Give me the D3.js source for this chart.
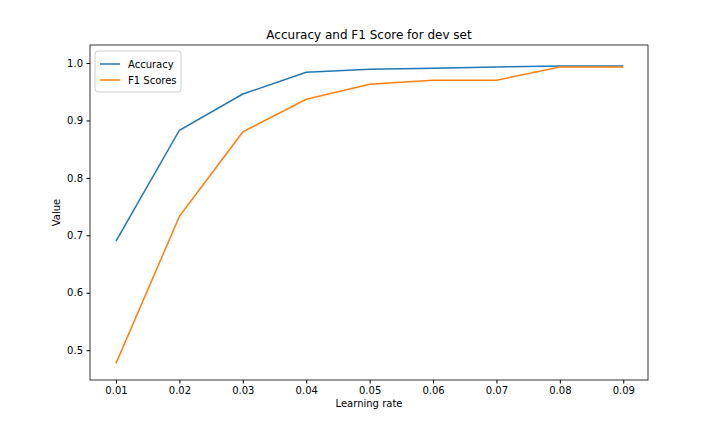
<!DOCTYPE html>
<html><head><meta charset="utf-8">
<script src="https://cdn.jsdelivr.net/npm/d3@7"></script>
<style>body{margin:0;background:#fff}text{font-family:"DejaVu Sans",sans-serif}</style>
</head><body><svg id="c" width="720" height="432"></svg>
<script>
const rates = [0.01,0.02,0.03,0.04,0.05,0.06,0.07,0.08,0.09];
const accuracy = [0.690,0.883,0.946,0.984,0.989,0.991,0.993,0.995,0.995];
const f1 = [0.477,0.733,0.880,0.937,0.963,0.970,0.970,0.993,0.993];
const yTicks = [0.5,0.6,0.7,0.8,0.9,1.0];

const svg = d3.select("#c");
const L=90,R=648,T=45,B=380;
const x = d3.scaleLinear().domain([0.0059,0.0939]).range([L,R]);
const y = d3.scaleLinear().domain([0.4481,1.0314]).range([B,T]);

const xa = svg.append("g").attr("transform",`translate(0,${B})`)
  .call(d3.axisBottom(x).tickValues(rates).tickFormat(d3.format(".2f")).tickSize(3.5).tickPadding(3.5));
const ya = svg.append("g").attr("transform",`translate(${L},0)`)
  .call(d3.axisLeft(y).tickValues(yTicks).tickFormat(d3.format(".1f")).tickSize(3.5).tickPadding(3.5));
[xa,ya].forEach(a=>{a.select(".domain").remove();a.selectAll("text").attr("font-size",10).attr("fill","#000").style("font-family","DejaVu Sans");a.selectAll("line").attr("stroke","#000");});
svg.append("rect").attr("x",L).attr("y",T).attr("width",R-L).attr("height",B-T).attr("fill","none").attr("stroke","#000").attr("stroke-width",0.8);

const line = d3.line().x((d,i)=>x(rates[i])).y(d=>y(d));
svg.append("path").datum(accuracy).attr("d",line).attr("fill","none").attr("stroke","#1f77b4").attr("stroke-width",1.5);
svg.append("path").datum(f1).attr("d",line).attr("fill","none").attr("stroke","#ff7f0e").attr("stroke-width",1.5);

svg.append("text").attr("x",(L+R)/2).attr("y",T-6).attr("text-anchor","middle").attr("font-size",12).text("Accuracy and F1 Score for dev set");
svg.append("text").attr("x",(L+R)/2).attr("y",407).attr("text-anchor","middle").attr("font-size",10).text("Learning rate");
svg.append("text").attr("transform",`translate(60,${(T+B)/2}) rotate(-90)`).attr("text-anchor","middle").attr("font-size",10).text("Value");

const lg = svg.append("g").attr("transform",`translate(95,51)`);
lg.append("rect").attr("width",86).attr("height",41).attr("rx",3).attr("fill","#fff").attr("stroke","#ccc");
[["Accuracy","#1f77b4"],["F1 Scores","#ff7f0e"]].forEach(([n,c],i)=>{
  const yy=13+i*16;
  lg.append("line").attr("x1",5).attr("x2",25).attr("y1",yy).attr("y2",yy).attr("stroke",c).attr("stroke-width",1.5);
  lg.append("text").attr("x",33).attr("y",yy+3.5).attr("font-size",10).text(n);
});
</script></body></html>
